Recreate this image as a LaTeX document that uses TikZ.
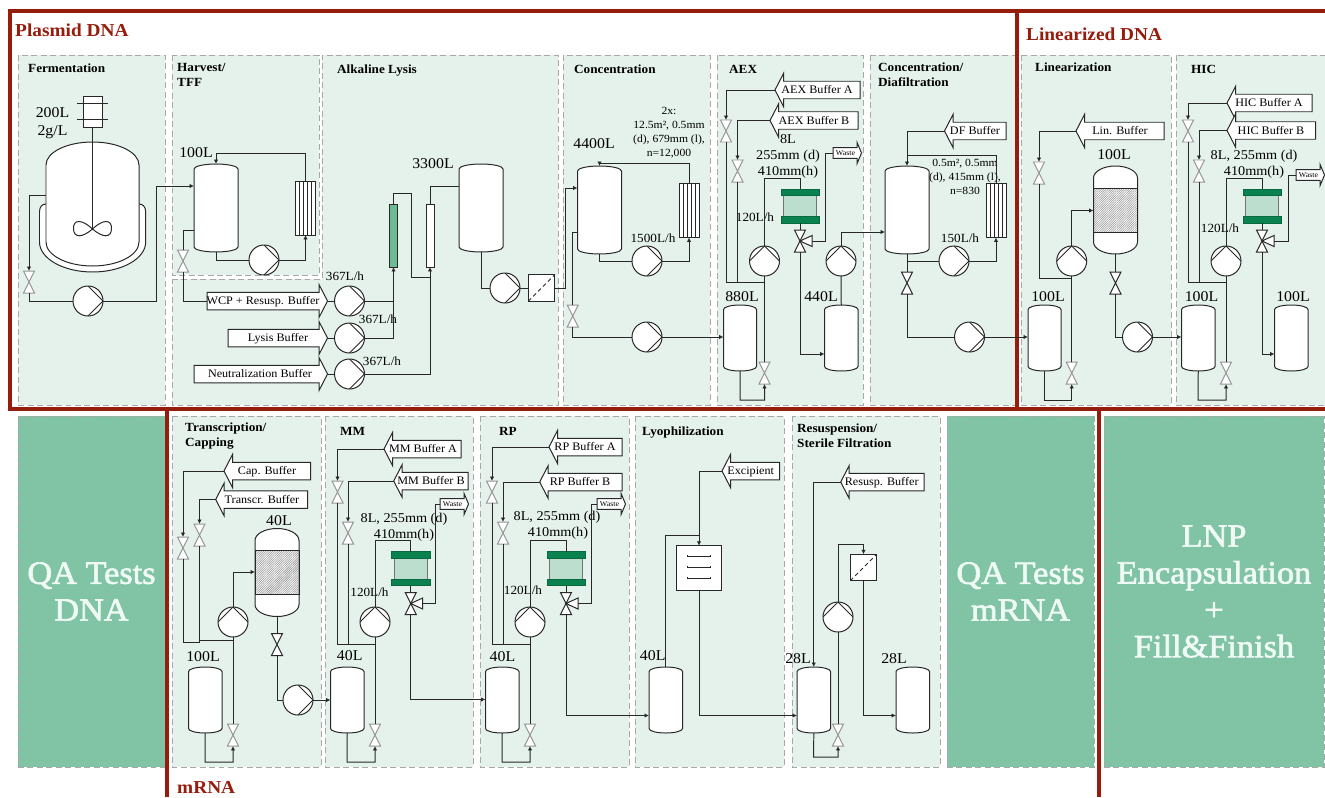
\documentclass[tikz,border=0pt]{standalone}
\usepackage{fontspec}
\setmainfont[FakeStretch=1.06]{Liberation Serif}
\newfontfamily\qafont[FakeStretch=1.06,FakeBold=2]{Liberation Serif}
\usepackage{xcolor}
\definecolor{pdframe}{RGB}{150,28,12}
\definecolor{pdpanel}{RGB}{228,242,235}
\definecolor{pdqa}{RGB}{128,196,165}
\definecolor{pdqatext}{RGB}{240,250,245}
\definecolor{pddash}{RGB}{168,168,168}
\definecolor{pdflange}{RGB}{10,130,80}
\definecolor{pdbed}{RGB}{187,222,206}
\definecolor{pdteal}{RGB}{110,185,150}
\definecolor{pdline}{RGB}{40,40,40}
\definecolor{pdvalve}{RGB}{150,150,150}
\usetikzlibrary{arrows.meta,positioning,fit,patterns.meta}

\tikzset{
  frameline/.style={pdframe, line width=3.4pt},
  panel/.style={draw=pddash, fill=pdpanel, line width=.9pt, dash pattern=on 6pt off 3.5pt},
  grouptitle/.style={font=\fontsize{18.3}{20}\selectfont\bfseries, pdframe, anchor=west, inner sep=0pt},
  paneltitle/.style={font=\fontsize{12.5}{15.5}\selectfont\bfseries, anchor=west, align=left, inner sep=0pt},
  vol/.style={font=\fontsize{15}{17}\selectfont, inner sep=0pt},
  rate/.style={font=\fontsize{12.5}{14}\selectfont, inner sep=0pt},
  collabel/.style={font=\fontsize{13.5}{16}\selectfont, inner sep=0pt, text height=9.5bp, text depth=.5bp},
  note/.style={font=\fontsize{11}{14}\selectfont, align=center, inner sep=0pt},
  buflabel/.style={font=\fontsize{11.5}{13}\selectfont, inner sep=0pt, text height=8bp, text depth=.5bp},
  wastelabel/.style={font=\fontsize{7.5}{8}\selectfont, inner sep=0pt},
  qabox/.style={fill=pdqa, draw=pddash, line width=.9pt, dash pattern=on 6pt off 3.5pt, text=pdqatext,
    font=\fontsize{32.5}{37}\qafont, align=center, inner sep=0pt},
  pipe/.style={pdline, line width=1pt},
  flow/.style={pipe, -{Latex[length=4.5pt,width=4.5pt]}},
  tankline/.style={pdline, line width=1pt, fill=white},
  bufferline/.style={pdline, line width=1pt, fill=white, line join=miter},
  valvelight/.style={pdvalve, line width=1pt, fill=white},
  valvedark/.style={pdline, line width=1pt, fill=white},
  valvebox/.style={minimum width=11bp, minimum height=22bp, inner sep=0pt, outer sep=0pt},
  pumpr/.style={circle, draw=pdline, line width=1pt, fill=white, minimum size=30bp, inner sep=0pt, outer sep=0pt,
    path picture={\draw[pdline, line width=1pt] (path picture bounding box.north) -- (path picture bounding box.east) -- (path picture bounding box.south);}},
  pumpu/.style={circle, draw=pdline, line width=1pt, fill=white, minimum size=30bp, inner sep=0pt, outer sep=0pt,
    path picture={\draw[pdline, line width=1pt] (path picture bounding box.west) -- (path picture bounding box.north) -- (path picture bounding box.east);}},
  tffbox/.style={draw=pdline, line width=1pt, fill=white, minimum width=20bp, minimum height=54bp, inner sep=0pt, outer sep=0pt,
    path picture={\foreach \i in {-6,-2,2,6} \draw[pdline, line width=.8pt] ([xshift=\i bp]path picture bounding box.north) -- ([xshift=\i bp]path picture bounding box.south);}},
  sterilebox/.style={draw=pdline, line width=1pt, fill=white, minimum size=26.5bp, inner sep=0pt, outer sep=0pt,
    path picture={\draw[pdline, line width=.9pt, dash pattern=on 4pt off 3pt] (path picture bounding box.south west) -- (path picture bounding box.north east);}},
  lyobox/.style={draw=pdline, line width=1pt, fill=white, minimum size=44.5bp, inner sep=0pt, outer sep=0pt},
  tube/.style={draw=pdline, line width=1pt, minimum width=8bp, minimum height=63bp, inner sep=0pt, outer sep=0pt},
  hatchbox/.style={draw=pdline, line width=.8pt, minimum width=44bp, minimum height=43.5bp, inner sep=0pt, outer sep=0pt,
    pattern={Lines[angle=45,distance=1.6pt,line width=.55pt]}, pattern color=gray!85},
  colbody/.style={draw=gray!90!black, line width=1pt, fill=pdbed, minimum width=33bp, minimum height=22bp, inner sep=0pt, outer sep=0pt},
  colflange/.style={draw=pdflange!80!black, line width=.5pt, fill=pdflange, minimum width=38.5bp, minimum height=6.5bp, inner sep=0pt, outer sep=0pt},
  motorbox/.style={draw=pdline, line width=1pt, fill=white, minimum width=19bp, minimum height=31bp, inner sep=0pt, outer sep=0pt},
}

% [dome]{name}{left}{top}{right}{bottom}
\newcommand{\vessel}[6][4.5]{%
  \node[fit={(#3,#4) (#5,#6)}, inner sep=0pt, outer sep=0pt] (#2) {};
  \pgfmathsetmacro{\tankrx}{(#5-#3)/2}
  \draw[tankline] (#3,#4+#1) arc[start angle=180,end angle=0,x radius=\tankrx bp,y radius=#1 bp]
    -- (#5,#6-#1) arc[start angle=0,end angle=-180,x radius=\tankrx bp,y radius=#1 bp] -- cycle;
}
\newcommand{\valve}[4][valvelight]{%
  \node[valvebox] (#2) at (#3,#4) {};
  \draw[#1] (#2.north west) -- (#2.north east) -- (#2.south west) -- (#2.south east) -- cycle;
}
\newcommand{\threeway}[3]{%
  \valve[valvedark]{#1}{#2}{#3}
  \coordinate (#1-side) at (#2+12,#3);
  \draw[valvedark] (#2,#3) -- (#2+12,#3-5.5) -- (#2+12,#3+5.5) -- cycle;
}
\newcommand{\chromcol}[3]{%
  \node[colbody] (#1) at (#2,#3+17.5) {};
  \node[colflange] (#1-top) at (#2,#3+3.25) {};
  \node[colflange] (#1-bot) at (#2,#3+30.75) {};
}
% {name}{tip x}{y}{right x}{label x}{text}
\newcommand{\bufferL}[6]{%
  \draw[bufferline] (#2,#3) -- (#2+8.5,#3-16.5) -- (#2+8.5,#3-8.75) -- (#4,#3-8.75) -- (#4,#3+8.75)
    -- (#2+8.5,#3+8.75) -- (#2+8.5,#3+16.5) -- cycle;
  \coordinate (#1) at (#2,#3);
  \node[buflabel] (#1-text) at (#5,#3) {#6};
}
% {name}{back x}{tip x}{y}{label x}{text}
\newcommand{\bufferR}[6]{%
  \draw[bufferline] (#3,#4) -- (#3-8.5,#4-16.5) -- (#3-8.5,#4-8.75) -- (#2,#4-8.75) -- (#2,#4+8.75)
    -- (#3-8.5,#4+8.75) -- (#3-8.5,#4+16.5) -- cycle;
  \coordinate (#1) at (#3,#4);
  \coordinate (#1-back) at (#2,#4);
  \node[buflabel] (#1-text) at (#5,#4) {#6};
}
% {name}{back x}{y}
\newcommand{\wastearrow}[3]{%
  \draw[bufferline] (#2+28.5,#3) -- (#2+24,#3-10.7) -- (#2+24,#3-5.3) -- (#2,#3-5.3) -- (#2,#3+5.3)
    -- (#2+24,#3+5.3) -- (#2+24,#3+10.7) -- cycle;
  \coordinate (#1) at (#2,#3);
  \node[wastelabel] (#1-text) at (#2+12.5,#3) {Waste};
}

\begin{document}
\begin{tikzpicture}[x=1bp, y=-1bp]
\useasboundingbox (0,0) rectangle (1325,797);

% --- Panels ---
\draw[panel] (18,55) rectangle (165,405);
\draw[panel] (172,55) rectangle (319,275);
\draw[panel] (172,279) -- (322,279) -- (322,55) -- (558,55) -- (558,405) -- (172,405) -- cycle;
\draw[panel] (563,55) rectangle (710,405);
\draw[panel] (717,55) rectangle (863,405);
\draw[panel] (870,55) rectangle (1015,405);
\draw[panel] (1021,55) rectangle (1171,405);
\draw[panel] (1176,55) rectangle (1327,405);
\draw[panel] (172,416) rectangle (321,767);
\draw[panel] (325,416) rectangle (473,767);
\draw[panel] (480,416) rectangle (629,767);
\draw[panel] (635,416) rectangle (784,767);
\draw[panel] (792,416) rectangle (940,767);
\node[qabox, minimum width=147bp, minimum height=351bp] (qadna) at (91.5,591.5) {QA Tests\\DNA};
\node[qabox, minimum width=147bp, minimum height=351bp] (qarna) at (1020.5,591.5) {QA Tests\\mRNA};
\node[qabox, minimum width=220bp, minimum height=351bp] (lnp) at (1214,591.5) {LNP\\Encapsulation\\+\\Fill\&Finish};

% --- Frames ---
\draw[frameline] (1325,11) -- (10,11) -- (10,409) -- (1325,409);
\draw[frameline] (1017,11) -- (1017,409);
\draw[frameline] (167,409) -- (167,797);
\draw[frameline] (1099,409) -- (1099,797);
\node[grouptitle] (gplasmid) at (15,30) {Plasmid DNA};
\node[grouptitle] (glinear) at (1026,34) {Linearized DNA};
\node[grouptitle] (grna) at (177,787) {mRNA};

% --- Panel titles ---
\node[paneltitle] (tferm) at (28,68) {Fermentation};
\node[paneltitle] (tharv) at (177,75) {Harvest/\\TFF};
\node[paneltitle] (tlys) at (337,71) {Alkaline Lysis};
\node[paneltitle] (tconc) at (574,69) {Concentration};
\node[paneltitle] (taex) at (729,69) {AEX};
\node[paneltitle] (tdia) at (878,75) {Concentration/\\Diafiltration};
\node[paneltitle] (tlin) at (1035,67) {Linearization};
\node[paneltitle] (thic) at (1191,69) {HIC};
\node[paneltitle] (ttra) at (185,436) {Transcription/\\Capping};
\node[paneltitle] (tmm) at (340,431) {MM};
\node[paneltitle] (trp) at (499,431) {RP};
\node[paneltitle] (tlyo) at (642,433) {Lyophilization};
\node[paneltitle] (tres) at (797,436) {Resuspension/\\Sterile Filtration};

% --- Fermentation ---
\node[motorbox] (motor) at (92.5,111.5) {};
\draw[pipe] (77,103) -- (108,103);
\draw[pipe] (77,119) -- (108,119);
\node[vol] (lferm) at (52.5,113) {200L};
\node[vol] (lferm2) at (52.5,132) {2g/L};
\draw[tankline] (46,204) .. controls (42,204) and (39.5,207) .. (39.5,212) -- (39.5,242)
  arc[start angle=180,end angle=360,x radius=53.1bp,y radius=30bp]
  -- (145.7,212) .. controls (145.7,207) and (143,204) .. (139,204) -- cycle;
\node[fit={(46,142) (139,266)}, inner sep=0pt, outer sep=0pt] (ferm) {};
\draw[tankline] (46,165) arc[start angle=180,end angle=0,x radius=46.5bp,y radius=23bp]
  -- (139,242) arc[start angle=0,end angle=-180,x radius=46.5bp,y radius=24bp] -- cycle;
\coordinate (impeller) at (92.5,229);
\draw[pipe] (motor.south) -- (impeller);
\draw[pipe] (impeller) .. controls (82,219) and (73,219) .. (73.5,229) .. controls (74,238) and (82,238) .. (impeller)
  .. controls (103,219) and (112,219) .. (111.5,229) .. controls (111,238) and (103,238) .. (impeller);
\valve{vferm}{29}{282}
\node[pumpr] (pferm) at (88,301) {};
\draw[flow] (ferm.west |- 0,195) -| (vferm.north);
\draw[pipe] (vferm.south) |- (pferm.west);

% --- Harvest/TFF ---
\vessel[5]{tkharv}{194}{164}{238}{252}
\node[vol] (lharv) at (196,153) {100L};
\node[tffbox] (fharv) at (305.5,208) {};
\node[pumpr] (pharv) at (264,260) {};
\valve{vharv}{183}{261}
\draw[flow] (pferm.east) -- (156,301) |- (tkharv.west |- 0,186);
\draw[flow] (fharv.north) -- (305.5,153) -| (tkharv.north);
\draw[pipe] (tkharv.south) |- (pharv.west);
\draw[flow] (pharv.east) -| (fharv.south);
\draw[pipe] (tkharv.west |- 0,230) -| (vharv.north);

% --- Alkaline Lysis ---
\bufferR{bwcp}{207}{327.5}{301}{263}{WCP + Resusp. Buffer}
\bufferR{blys}{228}{327.5}{338}{278}{Lysis Buffer}
\bufferR{bneu}{194}{327.5}{374}{260}{Neutralization Buffer}
\node[pumpr] (pwcp) at (349.5,301) {};
\node[pumpr] (plys) at (349.5,338) {};
\node[pumpr] (pneu) at (349.5,374) {};
\node[rate] (lwcp) at (345,276) {367L/h};
\node[rate] (llys) at (378,319) {367L/h};
\node[rate] (lneu) at (382,361) {367L/h};
\node[tube, fill=pdteal] (cola) at (393.5,235.5) {};
\node[tube, fill=white] (colb) at (430,235.5) {};
\vessel[5]{tklys}{459}{164}{503}{252}
\node[vol] (lklys) at (433,164) {3300L};
\node[pumpr] (palk) at (505,288) {};
\node[sterilebox] (salk) at (541.5,288) {};
\draw[pipe] (vharv.south) |- (bwcp-back);
\draw[pipe] (bwcp) -- (pwcp.west);
\draw[pipe] (blys) -- (plys.west);
\draw[pipe] (bneu) -- (pneu.west);
\draw[pipe] (pwcp.east) -- (cola.south |- pwcp.east);
\draw[flow] (plys.east) -| (cola.south);
\draw[flow] (pneu.east) -| (colb.south);
\draw[pipe] (cola.north) |- (411.5,193) -- (411.5,277) -- (colb.south |- 0,277);
\draw[pipe] (colb.north) |- (tklys.west |- 0,186);
\draw[pipe] (tklys.south) |- (palk.west);
\draw[pipe] (palk.east) -- (salk.west);

% --- Concentration ---
\vessel[5]{tkcon}{577.5}{166}{621.5}{254}
\node[vol] (lkcon) at (594,144) {4400L};
\node[note] (ncon) at (669,133) {2x:\\12.5m², 0.5mm\\(d), 679mm (l),\\n=12,000};
\node[tffbox] (fcon) at (689,210.5) {};
\node[pumpr] (pcon) at (647,261) {};
\node[pumpr] (pcon2) at (647,337) {};
\node[rate] (lpcon) at (653,238) {1500L/h};
\valve{vcon}{572.7}{316}
\draw[flow] (salk.east) -- (565.7,288) |- (tkcon.west |- 0,188);
\draw[flow] (fcon.north) -- (689,163.5) -| (tkcon.north);
\draw[pipe] (tkcon.south) |- (pcon.west);
\draw[flow] (pcon.east) -| (fcon.south);
\draw[pipe] (tkcon.west |- 0,232) -| (vcon.north);
\draw[pipe] (vcon.south) |- (pcon2.west);

% --- AEX ---
\vessel{tkaex}{723.5}{305}{756.5}{371}
\vessel{tkaex2}{824.5}{305}{858}{371}
\node[vol] (lkaex) at (742,297) {880L};
\node[vol] (lkaex2) at (821,297) {440L};
\bufferL{baexa}{775}{90}{860}{817}{AEX Buffer A}
\bufferL{baexb}{770}{120.5}{858}{814}{AEX Buffer B}
\wastearrow{waex}{833}{153}
\valve{vaexa}{726}{131}
\valve{vaexb}{737.5}{171}
\valve{vaexc}{764.5}{373}
\node[pumpu] (paex) at (764.5,261) {};
\node[pumpu] (paex2) at (841,261) {};
\chromcol{caex}{800}{189}
\threeway{waexv}{800}{241}
\node[collabel] (laex1) at (788,139) {8L};
\node[collabel] (laex2) at (788,155) {255mm (d)};
\node[collabel] (laex3) at (788,171) {410mm(h)};
\node[rate] (lpaex) at (755,217) {120L/h};
\draw[flow] (pcon2.east) -- (tkaex.west |- pcon2.east);
\draw[flow] (tkaex.south) -- (740,400) -| (vaexc.south);
\draw[pipe] (vaexc.north) -- (paex.south);
\draw[pipe] (paex.south |- 0,282) -- (726,282) -- (vaexa.south);
\draw[pipe] (vaexb.south) -- (vaexb.south |- 0,282);
\draw[flow] (baexa) -| (vaexa.north);
\draw[flow] (baexb) -| (vaexb.north);
\draw[pipe] (paex.north) -- (764.5,178) -| (caex-top.north);
\draw[pipe] (caex-bot.south) -- (waexv.north);
\draw[pipe] (waexv-side) -- (825.5,241) |- (waex);
\draw[flow] (waexv.south) |- (tkaex2.west |- 0,354);
\draw[pipe] (tkaex2.north) -- (paex2.south);

% --- Concentration/Diafiltration ---
\vessel[5]{tkdia}{885}{166}{929}{254}
\bufferL{bdf}{944.5}{131}{1006}{975}{DF Buffer}
\node[note] (ndia) at (965,177) {0.5m², 0.5mm\\(d), 415mm (l),\\n=830};
\node[tffbox] (fdia) at (996,210.5) {};
\node[pumpr] (pdia) at (954,261) {};
\node[pumpr] (pdia2) at (969.5,337) {};
\node[rate] (lpdia) at (960,238) {150L/h};
\valve[valvedark]{vdia}{907}{283}
\draw[flow] (paex2.north) |- (tkdia.west |- 0,232);
\draw[flow] (bdf) -| (tkdia.north);
\draw[pipe] (fdia.north) |- (tkdia.north |- 0,155.7);
\draw[pipe] (tkdia.south) -- (vdia.north);
\draw[pipe] (tkdia.south |- pdia.west) -- (pdia.west);
\draw[flow] (pdia.east) -| (fdia.south);
\draw[pipe] (vdia.south) |- (pdia2.west);

% --- Linearization ---
\vessel{tklin}{1028}{305}{1061}{371}
\node[vol] (lklin) at (1048,297) {100L};
\bufferL{blin}{1076}{131}{1164}{1120}{Lin. Buffer}
\valve{vlina}{1039}{173}
\valve{vlinb}{1071.7}{373}
\node[pumpu] (plin) at (1071.7,261) {};
\vessel[12]{rlin}{1093.5}{166}{1137.5}{254}
\node[hatchbox] (hlin) at (1115.5,210.25) {};
\node[vol] (lrlin) at (1114,155) {100L};
\valve[valvedark]{vlinc}{1115.5}{283}
\node[pumpr] (plin2) at (1137.5,337) {};
\draw[flow] (pdia2.east) -- (tklin.west |- pdia2.east);
\draw[flow] (tklin.south) -- (1044.5,400) -| (vlinb.south);
\draw[pipe] (vlinb.north) -- (plin.south);
\draw[pipe] (plin.south |- 0,278) -- (1039,278) -- (vlina.south);
\draw[flow] (blin) -| (vlina.north);
\draw[flow] (plin.north) |- (rlin.west |- 0,210.5);
\draw[pipe] (rlin.south) -- (vlinc.north);
\draw[pipe] (vlinc.south) |- (plin2.west);

% --- HIC ---
\vessel{tkhic}{1181.5}{305}{1215}{371}
\vessel{tkhic2}{1274.5}{305}{1308}{371}
\node[vol] (lkhic) at (1201.5,297) {100L};
\node[vol] (lkhic2) at (1293,297) {100L};
\bufferL{bhica}{1227}{103}{1312}{1269}{HIC Buffer A}
\bufferL{bhicb}{1227}{130.5}{1315.7}{1271}{HIC Buffer B}
\wastearrow{whic}{1296}{175}
\valve{vhica}{1188}{131}
\valve{vhicb}{1199}{171}
\valve{vhicc}{1226}{373}
\node[pumpu] (phic) at (1226,261) {};
\chromcol{chic}{1262}{189}
\threeway{whicv}{1262}{241}
\node[collabel] (lhic1) at (1254,155) {8L, 255mm (d)};
\node[collabel] (lhic2) at (1254,171) {410mm(h)};
\node[rate] (lphic) at (1220,228) {120L/h};
\draw[flow] (plin2.east) -- (tkhic.west |- plin2.east);
\draw[flow] (tkhic.south) -- (1198,400) -| (vhicc.south);
\draw[pipe] (vhicc.north) -- (phic.south);
\draw[pipe] (phic.south |- 0,282) -- (1188,282) -- (vhica.south);
\draw[pipe] (vhicb.south) -- (vhicb.south |- 0,282);
\draw[flow] (bhica) -| (vhica.north);
\draw[flow] (bhicb) -| (vhicb.north);
\draw[pipe] (phic.north) -- (1226,178) -| (chic-top.north);
\draw[pipe] (chic-bot.south) -- (whicv.north);
\draw[pipe] (whicv-side) -- (1288,241) |- (whic);
\draw[flow] (whicv.south) |- (tkhic2.west |- 0,354);

% --- Transcription/Capping ---
\vessel{tktra}{188.5}{667}{222}{733}
\node[vol] (lktra) at (203,657) {100L};
\bufferL{bcap}{224}{471}{310.7}{267}{Cap. Buffer}
\bufferL{btra}{215.7}{499.5}{307.7}{262}{Transcr. Buffer}
\valve{vcap}{183}{548}
\valve{vtra}{199.5}{535}
\valve{vtrb}{233}{735}
\node[pumpu] (ptra) at (233,622) {};
\vessel[12]{rtra}{255}{528.5}{299}{616.5}
\node[hatchbox] (htra) at (277,572.25) {};
\node[vol] (lrtra) at (279,521) {40L};
\valve[valvedark]{vtrc}{277}{644.5}
\node[pumpr] (ptra2) at (298,700) {};
\draw[flow] (bcap) -| (vcap.north);
\draw[flow] (btra) -| (vtra.north);
\draw[pipe] (vcap.south) -- (183,642) -- (199.5,642) -- (vtra.south);
\draw[pipe] (199.5,640) -- (ptra.south |- 0,640);
\draw[flow] (tktra.south) -- (205,762) -| (vtrb.south);
\draw[pipe] (vtrb.north) -- (ptra.south);
\draw[flow] (ptra.north) |- (rtra.west |- 0,572);
\draw[pipe] (rtra.south) -- (vtrc.north);
\draw[pipe] (vtrc.south) |- (ptra2.west);

% --- MM ---
\vessel{tkmm}{330.5}{667}{364}{733}
\node[vol] (lkmm) at (349.7,656) {40L};
\bufferL{bmma}{384}{449}{461}{423}{MM Buffer A}
\bufferL{bmmb}{393.7}{481}{468}{431}{MM Buffer B}
\wastearrow{wmm}{440}{504}
\valve{vmma}{337.5}{492}
\valve{vmmb}{348}{533}
\valve{vmmc}{375}{735}
\node[pumpu] (pmm) at (375,622) {};
\chromcol{cmm}{410.7}{551.5}
\threeway{wmmv}{410.7}{603.5}
\node[collabel] (lmm1) at (404,518) {8L, 255mm (d)};
\node[collabel] (lmm2) at (404,534) {410mm(h)};
\node[rate] (lpmm) at (369.5,592) {120L/h};
\draw[flow] (ptra2.east) -- (tkmm.west |- ptra2.east);
\draw[flow] (tkmm.south) -- (347,762) -| (vmmc.south);
\draw[pipe] (vmmc.north) -- (pmm.south);
\draw[pipe] (pmm.south |- 0,644.5) -- (337.5,644.5) -- (vmma.south);
\draw[pipe] (vmmb.south) -- (vmmb.south |- 0,644.5);
\draw[flow] (bmma) -| (vmma.north);
\draw[flow] (bmmb) -| (vmmb.north);
\draw[pipe] (pmm.north) -- (375,540.5) -| (cmm-top.north);
\draw[pipe] (cmm-bot.south) -- (wmmv.north);
\draw[pipe] (wmmv-side) -- (435,603.5) |- (wmm);

% --- RP ---
\vessel{tkrp}{485.5}{667}{519}{733}
\node[vol] (lkrp) at (502.5,657) {40L};
\bufferL{brpa}{549}{447}{622}{585}{RP Buffer A}
\bufferL{brpb}{539.7}{482}{622}{580}{RP Buffer B}
\wastearrow{wrp}{597}{504}
\valve{vrpa}{492}{492}
\valve{vrpb}{503}{533}
\valve{vrpc}{530}{735}
\node[pumpu] (prp) at (530,622) {};
\chromcol{crp}{566}{551.5}
\threeway{wrpv}{566}{603.5}
\node[collabel] (lrp1) at (557,516) {8L, 255mm (d)};
\node[collabel] (lrp2) at (558,532) {410mm(h)};
\node[rate] (lprp) at (523,590) {120L/h};
\draw[flow] (wmmv.south) |- (tkrp.west |- 0,699.5);
\draw[flow] (tkrp.south) -- (502,762) -| (vrpc.south);
\draw[pipe] (vrpc.north) -- (prp.south);
\draw[pipe] (prp.south |- 0,644.5) -- (492,644.5) -- (vrpa.south);
\draw[pipe] (vrpb.south) -- (vrpb.south |- 0,644.5);
\draw[flow] (brpa) -| (vrpa.north);
\draw[flow] (brpb) -| (vrpb.north);
\draw[pipe] (prp.north) -- (530,540) -| (crp-top.north);
\draw[pipe] (crp-bot.south) -- (wrpv.north);
\draw[pipe] (wrpv-side) -- (591,603.5) |- (wrp);

% --- Lyophilization ---
\vessel{tklyo}{649}{667}{682.5}{733}
\node[vol] (lklyo) at (652.7,656) {40L};
\bufferL{bexc}{722}{471}{779.7}{750.7}{Excipient}
\node[lyobox] (lyo) at (699,568) {};
\draw[pipe] (687,554.5) -- (687,556) -- (710,556) -- (710,554.5);
\draw[pipe] (687,565.5) -- (687,567) -- (710,567) -- (710,565.5);
\draw[pipe] (687,576.5) -- (687,578) -- (710,578) -- (710,576.5);
\draw[flow] (wrpv.south) |- (tklyo.west |- 0,715.5);
\draw[flow] (bexc) -| (lyo.north);
\draw[pipe] (tklyo.north) |- (lyo.north |- 0,535);

% --- Resuspension/Sterile Filtration ---
\vessel{tkres}{797}{667}{830.5}{733}
\vessel{tkres2}{896}{667}{929.5}{733}
\node[vol] (lkres) at (798,659) {28L};
\node[vol] (lkres2) at (894,659) {28L};
\bufferL{bres}{840.7}{482}{924}{881.7}{Resusp. Buffer}
\valve{vres}{838}{735}
\node[pumpu] (pres) at (838,617) {};
\node[sterilebox] (sres) at (863.5,567.5) {};
\draw[flow] (lyo.south) |- (tkres.west |- 0,715.5);
\draw[flow] (bres) -| (tkres.north);
\draw[flow] (tkres.south) -- (813.7,757) -| (vres.south);
\draw[pipe] (vres.north) -- (pres.south);
\draw[flow] (pres.north) |- (863.5,544) -- (sres.north);
\draw[flow] (sres.south) |- (tkres2.west |- 0,715.5);

\end{tikzpicture}
\end{document}
